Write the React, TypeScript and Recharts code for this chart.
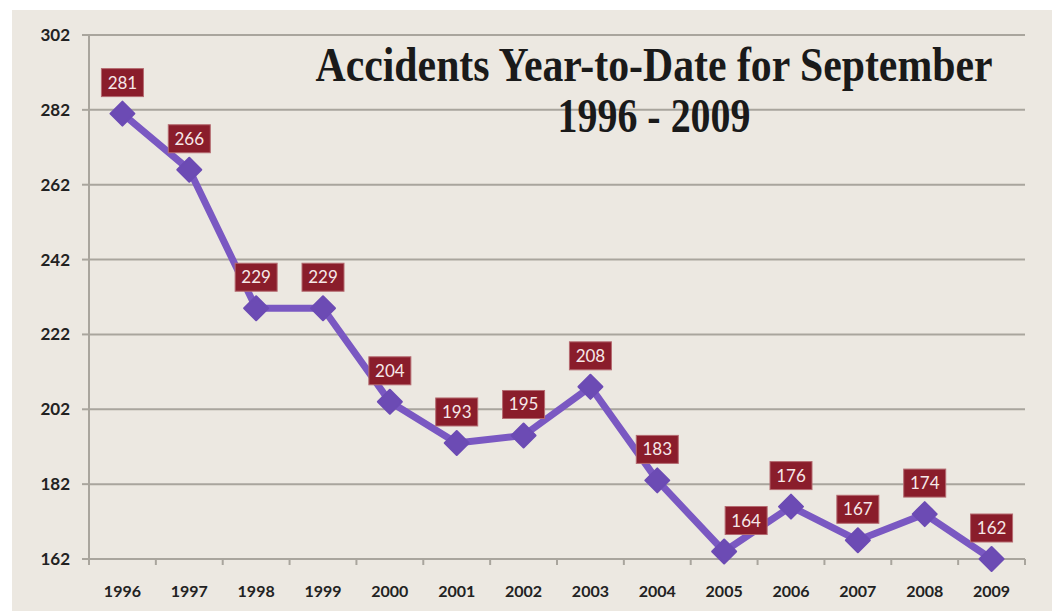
import React, { useLayoutEffect, useRef, useState } from "react"
import { CartesianGrid, LabelList, Line, LineChart, XAxis, YAxis } from "recharts"

// data
const YEARS = ["1996", "1997", "1998", "1999", "2000", "2001", "2002", "2003", "2004", "2005", "2006", "2007", "2008", "2009"]
const ACCIDENTS = [281, 266, 229, 229, 204, 193, 195, 208, 183, 164, 176, 167, 174, 162]
const Y_TICKS = [162, 182, 202, 222, 242, 262, 282, 302]
const TITLE = "Accidents Year-to-Date for September"
const SUBTITLE = "1996 - 2009"

const rows = YEARS.map((year, i) => ({ x: i + 0.5, year, value: ACCIDENTS[i] }))
// tick lines sit on category boundaries, labels in the middle
const xTicks = [...YEARS.map((_, i) => i), YEARS.length, ...YEARS.map((_, i) => i + 0.5)].sort((a, b) => a - b)

const BG = "#ece8e1"
const GRID = "#a9a59d"
const LINE = "#7a58c2"
const DOT = "#6c4bb4"
const BOX = "#8a1d2b"
const FONT = "Lato, 'Liberation Sans', sans-serif"
const SERIF = "'Liberation Serif', 'DejaVu Serif', serif"

// the 2005 label is pushed right in the original
const LABEL_NUDGE: Record<number, number> = { 9: 22 }

function XTick({ x, y, payload }: any) {
  const v = payload.value
  if (Number.isInteger(v)) {
    return <line x1={x} x2={x} y1={y - 6} y2={y} stroke={GRID} strokeWidth={2} />
  }
  return (
    <text x={x} y={y + 32} textAnchor="middle" fontFamily={FONT} fontWeight={700} fontSize={16} fill="#222">
      {YEARS[Math.floor(v)]}
    </text>
  )
}

function Diamond({ cx, cy, index }: any) {
  const r = 12
  return (
    <polygon
      key={`d-${index}`}
      points={`${cx},${cy - r} ${cx + r},${cy} ${cx},${cy + r} ${cx - r},${cy}`}
      fill={DOT}
      stroke={DOT}
      strokeWidth={2}
      strokeLinejoin="round"
    />
  )
}

function ValueBox({ x, y, value, index }: any) {
  const cx = x + (LABEL_NUDGE[index] ?? 0)
  const cy = y - 31
  return (
    <g>
      <rect x={cx - 21} y={cy - 14} width={42} height={28} fill={BOX} stroke="#b46a70" strokeWidth={1} />
      <text x={cx} y={cy + 6} textAnchor="middle" fontFamily={FONT} fontSize={17} fill="#f6e8e8">
        {value}
      </text>
    </g>
  )
}

// condensed serif title: squeeze the text horizontally to the wanted width
function SqueezedText({ x, y, width, size, children }: any) {
  const ref = useRef<SVGTextElement>(null)
  const [sx, setSx] = useState(0.8)
  useLayoutEffect(() => {
    if (ref.current) {
      const w = ref.current.getComputedTextLength()
      if (w > 0) setSx(width / w)
    }
  }, [width])
  return (
    <g transform={`translate(${x},${y}) scale(${sx},1)`}>
      <text ref={ref} x={0} y={0} textAnchor="middle" fontFamily={SERIF} fontWeight={700} fontSize={size} fill="#1a1a1a">
        {children}
      </text>
    </g>
  )
}

export default function App() {
  return (
    <div style={{ position: "relative", left: 4, top: 2, width: 1048, height: 603, background: BG }}>
      <LineChart width={1048} height={603} data={rows} margin={{ top: 25, right: 35, bottom: 0, left: 0 }}>
        <CartesianGrid vertical={false} stroke={GRID} strokeWidth={2} />
        <XAxis
          dataKey="x"
          type="number"
          domain={[0, YEARS.length]}
          ticks={xTicks}
          interval={0}
          height={54}
          tickSize={6}
          tickMargin={0}
          tickLine={false}
          axisLine={{ stroke: GRID, strokeWidth: 2 }}
          tick={<XTick />}
        />
        <YAxis
          domain={[162, 302]}
          ticks={Y_TICKS}
          interval={0}
          width={77}
          tickSize={7}
          tickMargin={12}
          tickLine={{ stroke: GRID, strokeWidth: 2 }}
          axisLine={{ stroke: GRID, strokeWidth: 2 }}
          tick={{ fontFamily: FONT, fontWeight: 700, fontSize: 17, fill: "#222" }}
        />
        <Line
          dataKey="value"
          stroke={LINE}
          strokeWidth={7}
          strokeLinejoin="round"
          dot={(p: any) => <Diamond {...p} />}
          activeDot={false}
          isAnimationActive={false}
        >
          <LabelList dataKey="value" content={(p: any) => <ValueBox {...p} />} />
        </Line>
      </LineChart>
      <svg width={1048} height={160} style={{ position: "absolute", left: 0, top: 0, pointerEvents: "none" }}>
        <SqueezedText x={642} y={71} width={677} size={48}>
          {TITLE}
        </SqueezedText>
        <SqueezedText x={642} y={122} width={193} size={48}>
          {SUBTITLE}
        </SqueezedText>
      </svg>
    </div>
  )
}
